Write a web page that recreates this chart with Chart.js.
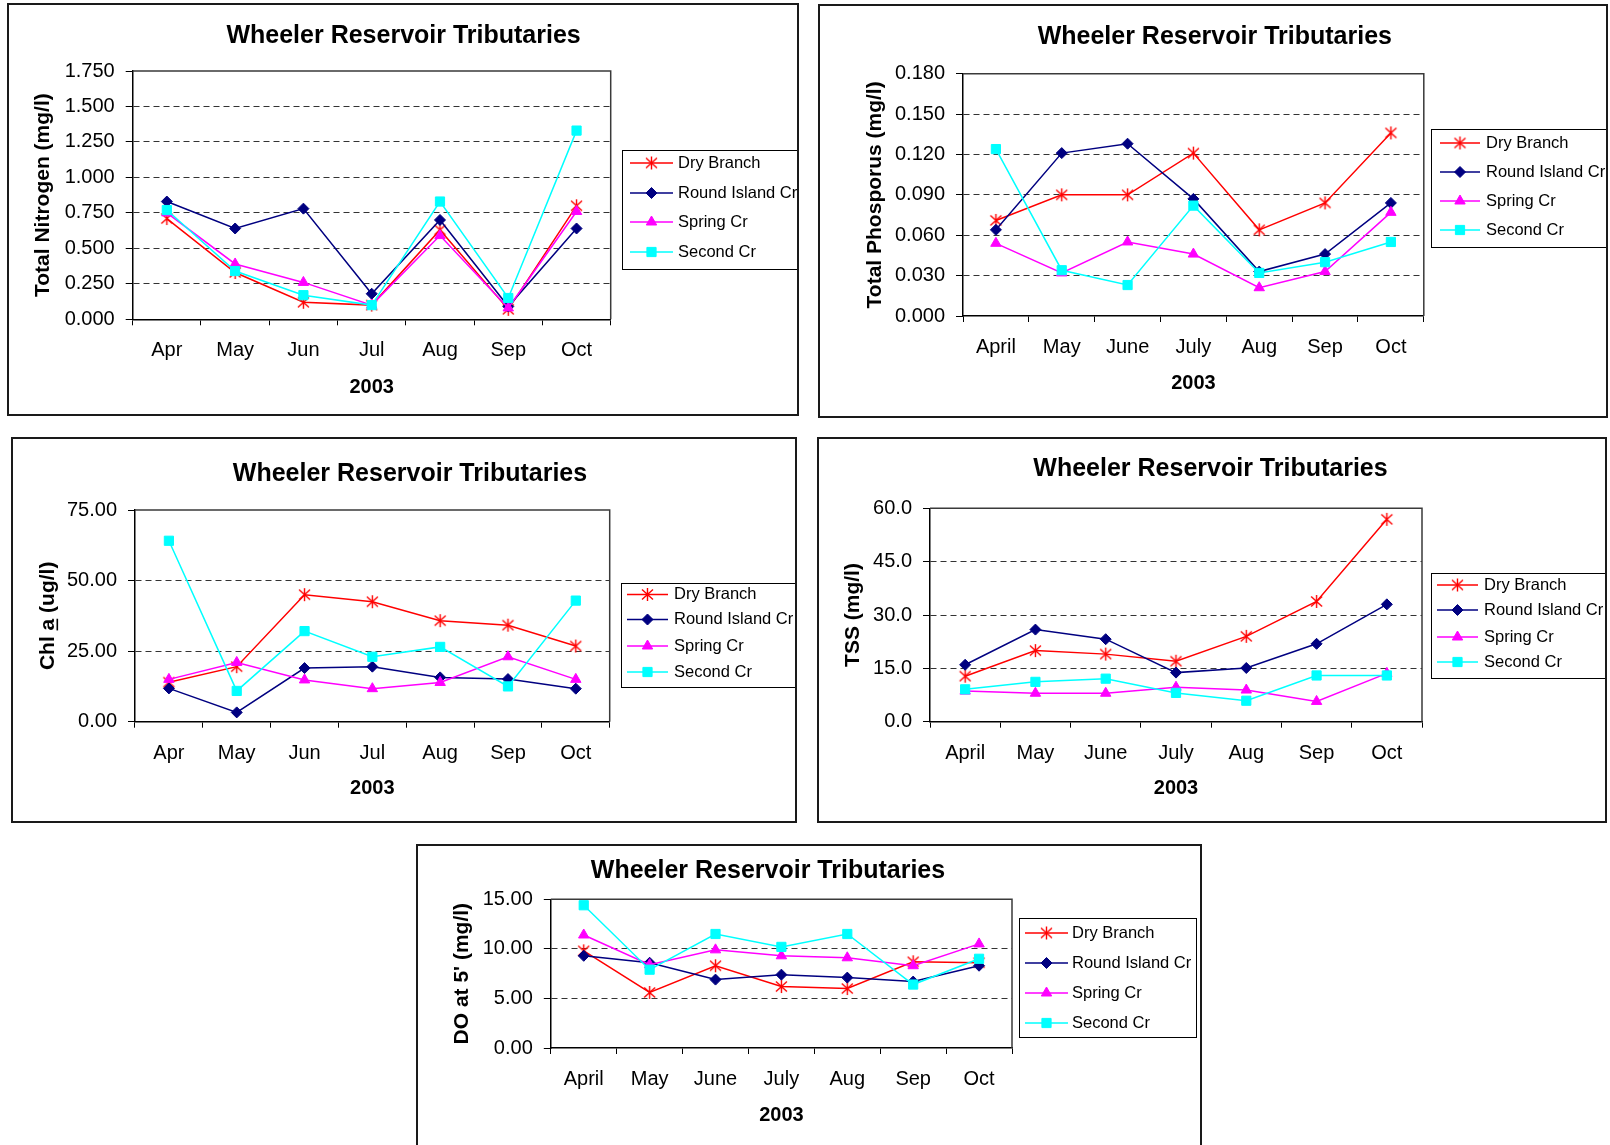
<!DOCTYPE html>
<html>
<head>
<meta charset="utf-8">
<title>Wheeler Reservoir Tributaries 2003</title>
<script src="https://cdn.jsdelivr.net/npm/chart.js@4/dist/chart.umd.min.js"></script>
<style>
  html, body { margin: 0; padding: 0; background: #fff; width: 1610px; height: 1145px; overflow: hidden; position: relative; }
  canvas { position: absolute; }
  .frame { position: absolute; box-sizing: border-box; border: 2px solid #1a1a1a; pointer-events: none; }
</style>
</head>
<body>
<script>
// ---- categories ----
const monthsShort = ['Apr', 'May', 'Jun', 'Jul', 'Aug', 'Sep', 'Oct'];
const monthsLong = ['April', 'May', 'June', 'July', 'Aug', 'Sep', 'Oct'];
const seriesNames = ['Dry Branch', 'Round Island Cr', 'Spring Cr', 'Second Cr'];

// ---- Total Nitrogen (mg/l) ----
const nitrogenDry    = [0.71, 0.33, 0.12, 0.10, 0.63, 0.07, 0.80];
const nitrogenRound  = [0.83, 0.64, 0.78, 0.18, 0.70, 0.09, 0.64];
const nitrogenSpring = [0.75, 0.39, 0.26, 0.10, 0.59, 0.08, 0.76];
const nitrogenSecond = [0.77, 0.34, 0.17, 0.10, 0.83, 0.15, 1.33];

// ---- Total Phosphorus (mg/l) ----
const phosDry    = [0.071, 0.090, 0.090, 0.121, 0.064, 0.084, 0.136];
const phosRound  = [0.064, 0.121, 0.128, 0.087, 0.033, 0.046, 0.084];
const phosSpring = [0.054, 0.032, 0.055, 0.046, 0.021, 0.033, 0.077];
const phosSecond = [0.124, 0.034, 0.023, 0.082, 0.032, 0.040, 0.055];

// ---- Chlorophyll a (ug/l) ----
const chlDry    = [14.0, 19.5, 45.0, 42.5, 35.8, 34.2, 26.8];
const chlRound  = [11.8, 3.3, 19.0, 19.5, 15.7, 15.1, 11.7];
const chlSpring = [15.0, 21.0, 14.8, 11.7, 13.9, 23.0, 15.0];
const chlSecond = [64.1, 10.9, 32.1, 23.0, 26.5, 12.5, 42.9];

// ---- TSS (mg/l) ----
const tssDry    = [12.8, 20.0, 19.0, 17.0, 24.0, 33.8, 56.9];
const tssRound  = [16.0, 25.9, 23.2, 13.8, 15.1, 21.9, 33.0];
const tssSpring = [8.6, 8.0, 8.0, 9.7, 8.9, 5.7, 13.6];
const tssSecond = [9.1, 11.2, 12.1, 8.1, 5.9, 13.0, 13.0];

// ---- Dissolved oxygen at 5' (mg/l) ----
const doDry    = [9.8, 5.6, 8.3, 6.2, 6.0, 8.7, 8.6];
const doRound  = [9.3, 8.6, 6.9, 7.4, 7.1, 6.7, 8.3];
const doSpring = [11.4, 8.4, 9.9, 9.3, 9.1, 8.3, 10.5];
const doSecond = [14.4, 7.9, 11.5, 10.2, 11.5, 6.4, 9.0];

// ---- y-axis tick settings: [max, step, decimals] ----
const nitrogenAxis = [1.75, 0.25, 3];
const phosAxis     = [0.18, 0.03, 3];
const chlAxis      = [75, 25, 2];
const tssAxis      = [60, 15, 1];
const doAxis       = [15, 5, 2];

// ---- styling ----
const FONT = "'Liberation Sans', Arial, Helvetica, sans-serif";
Chart.defaults.font.family = FONT;
Chart.defaults.color = '#000';

const palette = ['#FF0000', '#000080', '#FF00FF', '#00FFFF'];

function asteriskMarker(color) {
  const c = document.createElement('canvas');
  c.width = 15; c.height = 15;
  const g = c.getContext('2d');
  g.strokeStyle = color;
  g.lineWidth = 1.4;
  g.beginPath();
  g.moveTo(7.5, 1);  g.lineTo(7.5, 14);
  g.moveTo(2, 2.5);  g.lineTo(13, 12.5);
  g.moveTo(13, 2.5); g.lineTo(2, 12.5);
  g.stroke();
  return c;
}
const markerStyles = [asteriskMarker('#FF0000'), 'rectRot', 'triangle', 'rect'];
const markerRadius = [6.5, 5.5, 6, 6.5];

// Titles, plot frame and boxed legend drawn around the library's chart area
const chromePlugin = {
  id: 'chrome',
  beforeDatasetsDraw(chart) {
    const { ctx, chartArea: a } = chart;
    ctx.save();
    ctx.strokeStyle = '#3a3a3a';
    ctx.lineWidth = 1.5;
    ctx.beginPath();
    ctx.moveTo(a.left, a.top); ctx.lineTo(a.right, a.top); ctx.lineTo(a.right, a.bottom);
    ctx.stroke();
    ctx.restore();
  },
  afterDraw(chart, args, o) {
    const { ctx, chartArea: a } = chart;
    ctx.save();
    ctx.fillStyle = '#000';
    ctx.textBaseline = 'middle';

    // chart title
    ctx.font = 'bold 25px ' + FONT;
    ctx.textAlign = 'center';
    ctx.fillText(o.title, o.titleX, o.titleY);

    // category axis title
    ctx.font = 'bold 20px ' + FONT;
    ctx.fillText(o.xTitle, (a.left + a.right) / 2, o.xTitleY);

    // value axis title (rotated)
    ctx.save();
    ctx.translate(o.yTitleX, (a.top + a.bottom) / 2);
    ctx.rotate(-Math.PI / 2);
    ctx.font = 'bold 21px ' + FONT;
    ctx.textAlign = 'center';
    ctx.fillText(o.yTitle, 0, 0);
    if (o.underline) {
      const full = ctx.measureText(o.yTitle).width;
      const pre = ctx.measureText(o.underline[0]).width;
      const seg = ctx.measureText(o.underline[1]).width;
      const x0 = -full / 2 + pre;
      ctx.fillRect(x0, 8, seg, 1.6);
    }
    ctx.restore();

    // legend
    const lg = o.legend;
    ctx.fillStyle = '#fff';
    ctx.fillRect(lg.x1, lg.y1, lg.x2 - lg.x1, lg.y2 - lg.y1);
    ctx.strokeStyle = '#000';
    ctx.lineWidth = 1;
    ctx.strokeRect(lg.x1 + 0.5, lg.y1 + 0.5, lg.x2 - lg.x1 - 1, lg.y2 - lg.y1 - 1);
    ctx.font = '16.5px ' + FONT;
    ctx.textAlign = 'left';
    chart.data.datasets.forEach((ds, i) => {
      const y = lg.rows[i];
      ctx.strokeStyle = ds.borderColor;
      ctx.lineWidth = 1.5;
      ctx.beginPath();
      ctx.moveTo(lg.lineX1, y); ctx.lineTo(lg.lineX2, y);
      ctx.stroke();
      ctx.fillStyle = ds.pointBackgroundColor;
      ctx.strokeStyle = ds.pointBorderColor;
      ctx.lineWidth = 1;
      Chart.helpers.drawPoint(ctx, {
        pointStyle: ds.pointStyle, rotation: 0, radius: ds.pointRadius, borderWidth: 1
      }, (lg.lineX1 + lg.lineX2) / 2, y);
      ctx.fillStyle = '#000';
      ctx.fillText(ds.label, lg.textX, y);
    });
    ctx.restore();
  }
};

// Page layout of each panel (page pixels)
const panels = [
  {
    id: 'nitrogen', labels: monthsShort, series: [nitrogenDry, nitrogenRound, nitrogenSpring, nitrogenSecond],
    axis: nitrogenAxis, yTitle: 'Total Nitrogen (mg/l)',
    frame: [7, 3, 792, 413], plot: [132.7, 71, 610.7, 319.3],
    titlePos: [403.6, 36], yTitleX: 43, xTitleY: 387,
    legend: { x1: 622, y1: 150, x2: 799, y2: 270, rows: [163, 193, 222, 252], lineX1: 630, lineX2: 673, textX: 678 }
  },
  {
    id: 'phosphorus', labels: monthsLong, series: [phosDry, phosRound, phosSpring, phosSecond],
    axis: phosAxis, yTitle: 'Total Phosporus (mg/l)',
    frame: [818, 4, 790, 414], plot: [963, 73.7, 1423.8, 316],
    titlePos: [1214.8, 37.5], yTitleX: 875.3, xTitleY: 383,
    legend: { x1: 1431, y1: 129, x2: 1608, y2: 248, rows: [143, 172, 201, 230], lineX1: 1440, lineX2: 1480, textX: 1486 }
  },
  {
    id: 'chla', labels: monthsShort, series: [chlDry, chlRound, chlSpring, chlSecond],
    axis: chlAxis, yTitle: 'Chl a (ug/l)', underline: ['Chl ', 'a'],
    frame: [11, 437, 786, 386], plot: [135, 510, 609.7, 721.7],
    titlePos: [410, 474], yTitleX: 48.5, xTitleY: 788.3,
    legend: { x1: 621, y1: 583, x2: 796, y2: 688, rows: [594.5, 619.5, 646, 672], lineX1: 627, lineX2: 668, textX: 674 }
  },
  {
    id: 'tss', labels: monthsLong, series: [tssDry, tssRound, tssSpring, tssSecond],
    axis: tssAxis, yTitle: 'TSS (mg/l)',
    frame: [817, 437, 790, 386], plot: [930, 508.3, 1422, 721.7],
    titlePos: [1210.5, 469.5], yTitleX: 853.4, xTitleY: 788.3,
    legend: { x1: 1431, y1: 573, x2: 1606, y2: 679, rows: [585, 610, 637, 662], lineX1: 1437, lineX2: 1478, textX: 1484 }
  },
  {
    id: 'oxygen', labels: monthsLong, series: [doDry, doRound, doSpring, doSecond],
    axis: doAxis, yTitle: "DO at 5' (mg/l)",
    frame: [416, 844, 786, 320], plot: [550.8, 899.3, 1012, 1048],
    titlePos: [768, 871.5], yTitleX: 462.5, xTitleY: 1115,
    legend: { x1: 1019, y1: 918, x2: 1197, y2: 1038, rows: [933, 963, 993, 1023], lineX1: 1025, lineX2: 1068, textX: 1072 }
  }
];

function buildPanel(p) {
  const [fx, fy, fw, fh] = p.frame;
  const cv = document.createElement('canvas');
  cv.id = p.id;
  cv.width = fw; cv.height = fh;
  Object.assign(cv.style, { left: fx + 'px', top: fy + 'px', width: fw + 'px', height: fh + 'px' });
  document.body.appendChild(cv);
  const fr = document.createElement('div');
  fr.className = 'frame';
  Object.assign(fr.style, { left: fx + 'px', top: fy + 'px', width: fw + 'px', height: fh + 'px' });
  document.body.appendChild(fr);

  const L = p.plot[0] - fx, T = p.plot[1] - fy, R = p.plot[2] - fx, B = p.plot[3] - fy;
  const [yMax, yStep, decimals] = p.axis;
  const lg = p.legend;

  new Chart(cv, {
    type: 'line',
    data: {
      labels: p.labels,
      datasets: p.series.map((vals, i) => ({
        label: seriesNames[i],
        data: vals,
        borderColor: palette[i],
        backgroundColor: palette[i],
        pointBackgroundColor: palette[i],
        pointBorderColor: palette[i],
        borderWidth: 1.5,
        pointStyle: markerStyles[i],
        pointRadius: markerRadius[i],
        pointHoverRadius: markerRadius[i],
        pointBorderWidth: 1,
        tension: 0,
        fill: false,
        clip: false,
        order: 4 - i
      }))
    },
    options: {
      responsive: false,
      animation: false,
      devicePixelRatio: 1,
      events: [],
      layout: { padding: { left: 0, top: T, right: fw - R, bottom: 0 } },
      plugins: {
        legend: { display: false },
        title: { display: false },
        tooltip: { enabled: false },
        chrome: {
          title: 'Wheeler Reservoir Tributaries',
          titleX: p.titlePos[0] - fx, titleY: p.titlePos[1] - fy,
          xTitle: '2003', xTitleY: p.xTitleY - fy,
          yTitle: p.yTitle, yTitleX: p.yTitleX - fx, underline: p.underline,
          legend: {
            x1: lg.x1 - fx, y1: lg.y1 - fy, x2: lg.x2 - fx, y2: lg.y2 - fy,
            rows: lg.rows.map(r => r - fy),
            lineX1: lg.lineX1 - fx, lineX2: lg.lineX2 - fx, textX: lg.textX - fx
          }
        }
      },
      scales: {
        x: {
          type: 'category',
          offset: true,
          grid: { offset: true, drawOnChartArea: false, drawTicks: true, tickLength: 6, color: '#000', tickColor: '#000', lineWidth: 1 },
          border: { display: true, color: '#000', width: 1.5 },
          ticks: { color: '#000', font: { size: 20 }, padding: 13.5, maxRotation: 0, autoSkip: false },
          afterFit: s => { s.height = fh - B; }
        },
        y: {
          min: 0,
          max: yMax,
          ticks: {
            stepSize: yStep, color: '#000', font: { size: 20 }, padding: 11,
            callback: v => Number(v).toFixed(decimals)
          },
          grid: {
            color: c => (c.tick && c.tick.value > 1e-9 && c.tick.value < yMax - 1e-9) ? '#333' : 'rgba(0,0,0,0)',
            tickColor: '#000', tickLength: 7, lineWidth: 1
          },
          border: { display: true, color: '#000', width: 1.5, dash: [6, 4] },
          afterFit: s => { s.width = L; }
        }
      }
    },
    plugins: [chromePlugin]
  });
}

panels.forEach(buildPanel);
</script>
</body>
</html>
